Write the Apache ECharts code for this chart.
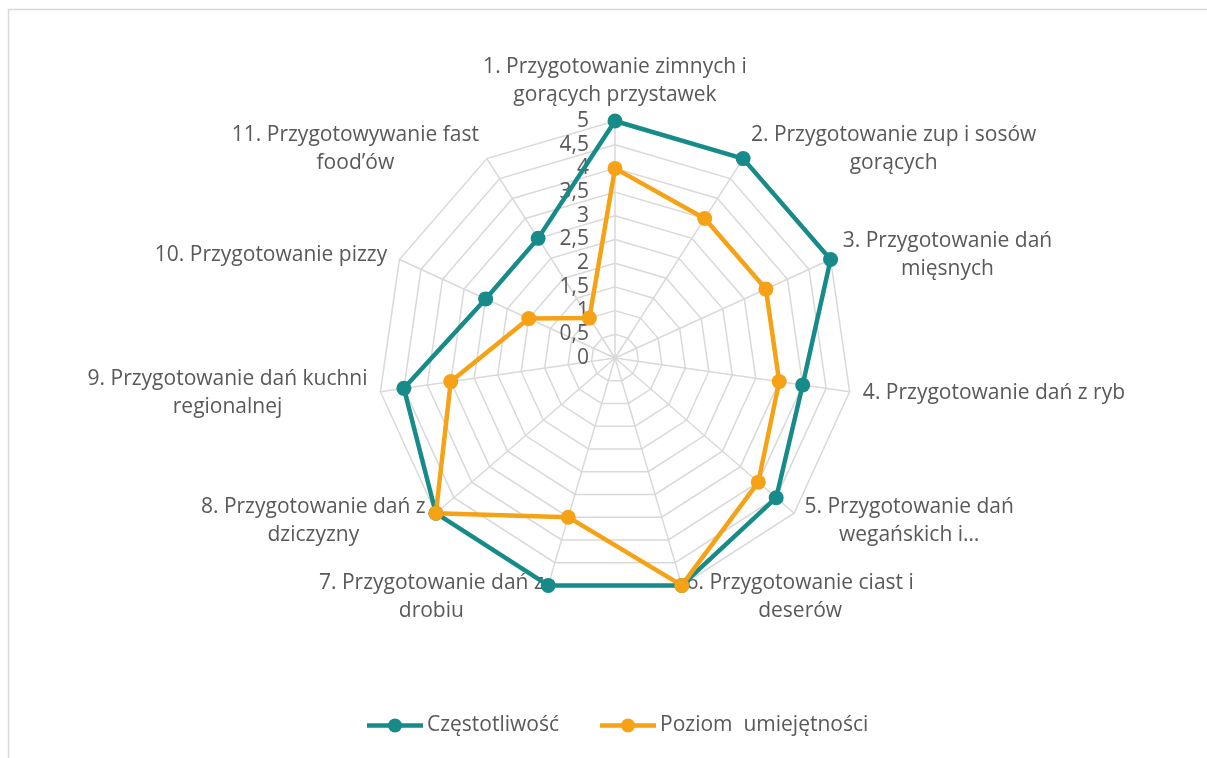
<!DOCTYPE html>
<html>
<head>
<meta charset="utf-8">
<script src="https://cdn.jsdelivr.net/npm/echarts@6/dist/echarts.min.js"></script>
<style>
  html, body { margin: 0; padding: 0; background: #fff; overflow: hidden; }
  #chart { width: 1207px; height: 758px; }
</style>
</head>
<body>
<div id="chart"></div>
<script>
// categories (axis names, line breaks as in the original)
const categories = [
  '1. Przygotowanie zimnych i\ngorących przystawek',
  '2. Przygotowanie zup i sosów\ngorących',
  '3. Przygotowanie dań\nmięsnych',
  '4. Przygotowanie dań z ryb',
  '5. Przygotowanie dań\nwegańskich i…',
  '6. Przygotowanie ciast i\ndeserów',
  '7. Przygotowanie dań z\ndrobiu',
  '8. Przygotowanie dań z\ndziczyzny',
  '9. Przygotowanie dań kuchni\nregionalnej',
  '10. Przygotowanie pizzy',
  '11. Przygotowywanie fast\nfood’ów'
];
const seriesNames = ['Częstotliwość', 'Poziom  umiejętności'];
const czestotliwosc = [5, 5, 5, 4, 4.5, 5, 5, 5, 4.5, 3, 3];
const poziom = [4, 3.5, 3.5, 3.5, 4, 5, 3.5, 5, 3.5, 2, 1];
const axisMax = 5;

const FONT = 'Open Sans';
const FS = 21;
const TEXT = '#595959';
const TEAL = '#178B89';
const ORANGE = '#F5A216';

// echarts radar goes counter-clockwise, excel goes clockwise -> reorder
const order = [0];
for (let k = categories.length - 1; k > 0; k--) order.push(k);
const pick = function (arr) { return order.map(function (k) { return arr[k]; }); };

// measure each name so its lines can be centred inside one block
const ctx = document.createElement('canvas').getContext('2d');
ctx.font = FS + 'px "' + FONT + '"';
const rich = {};
categories.forEach(function (c, i) {
  const w = Math.max.apply(null, c.split('\n').map(function (l) { return ctx.measureText(l).width; }));
  rich['n' + i] = { width: Math.ceil(w) + 2, align: 'center', fontSize: FS, fontFamily: FONT, color: TEXT, lineHeight: 28 };
});

const indicator = pick(categories).map(function (c, i) {
  const ind = { name: c, max: axisMax, min: 0 };
  if (i === 0) {
    ind.axisLabel = {
      show: true, margin: 26, fontSize: FS, fontFamily: FONT, color: TEXT,
      formatter: function (v) { return String(v).replace('.', ','); }
    };
  }
  return ind;
});

// line + dot legend marker, like excel
const legendIcon = 'path://M0,4.75 H22 V9.25 H0 Z M34,4.75 H56 V9.25 H34 Z M21,7 A7,7 0 1,1 35,7 A7,7 0 1,1 21,7 Z';

const chart = echarts.init(document.getElementById('chart'));
chart.setOption({
  animation: false,
  graphic: [{
    type: 'rect', silent: true, z: -10,
    shape: { x: 8.5, y: 9.5, width: 1300, height: 900 },
    style: { fill: 'none', stroke: '#d9d9d9', lineWidth: 1.5 }
  }],
  legend: {
    bottom: 17,
    left: 362,
    itemWidth: 56,
    itemHeight: 14,
    itemGap: 41,
    textStyle: { fontSize: FS, fontFamily: FONT, color: TEXT, padding: [0, 0, 0, -1] },
    data: seriesNames.map(function (n) { return { name: n, icon: legendIcon }; })
  },
  radar: {
    center: [615, 358],
    radius: 237,
    splitNumber: 10,
    shape: 'polygon',
    nameGap: 12,
    axisName: {
      color: TEXT, fontSize: FS, fontFamily: FONT,
      formatter: function (name) {
        const i = categories.indexOf(name);
        return name.split('\n').map(function (l) { return '{n' + i + '|' + l + '}'; }).join('\n');
      },
      rich: rich
    },
    axisLabel: { show: false },
    axisTick: { show: false },
    axisLine: { lineStyle: { color: '#d9d9d9', width: 1.5 } },
    splitLine: { lineStyle: { color: '#d9d9d9', width: 1.5 } },
    splitArea: { show: false },
    indicator: indicator
  },
  series: [{
    type: 'radar',
    symbol: 'circle',
    symbolSize: 15,
    data: [
      { name: seriesNames[0], value: pick(czestotliwosc),
        itemStyle: { color: TEAL }, lineStyle: { color: TEAL, width: 4.5 } },
      { name: seriesNames[1], value: pick(poziom),
        itemStyle: { color: ORANGE }, lineStyle: { color: ORANGE, width: 4.5 } }
    ]
  }]
});
</script>
</body>
</html>
